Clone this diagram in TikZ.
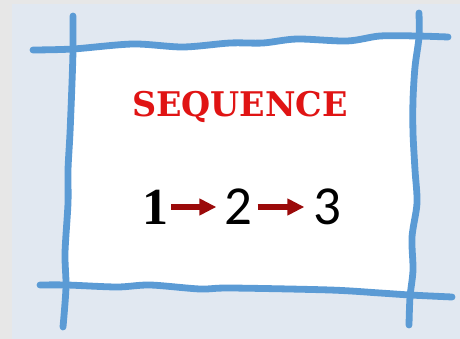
\documentclass[tikz,border=0pt]{standalone}
\usepackage{fontspec}
\usetikzlibrary{arrows.meta}
\setmainfont{DejaVu Serif}
\newfontfamily\onefont{Liberation Serif}
\newfontfamily\digfont{Carlito}
\definecolor{outergray}{HTML}{E7E7E7}
\definecolor{panelblue}{HTML}{E1E8F1}
\definecolor{framblue}{HTML}{5B9BD5}
\definecolor{seqred}{HTML}{E01414}
\definecolor{arrred}{HTML}{9B0A0A}
\tikzset{
  frameline/.style={draw=framblue, line width=6.8pt, line cap=round, line join=round},
  digit/.style={inner sep=0pt, anchor=base, text=black},
  seqarr/.style={draw=arrred, line width=5.5pt, -{Triangle[length=17pt,width=16pt]}},
}
\begin{document}
\begin{tikzpicture}[x=1pt,y=-1pt]
\useasboundingbox (0,0) rectangle (460,339);
\fill[outergray] (0,0) rectangle (460,339);
\fill[panelblue] (12,4) rectangle (460,339);
% white interior
\fill[white] plot[smooth] coordinates {(73,49) (133,44) (183,47) (230,43) (297,39) (347,41) (380,36) (419,36)}
  -- plot[smooth] coordinates {(419,36) (415,67) (413,100) (413,133) (415,170) (417,203) (412,237) (413,270) (410,295)}
  -- plot[smooth] coordinates {(410,295) (380,293) (330,290) (230,288) (200,289) (150,285) (117,287) (66,285)}
  -- plot[smooth] coordinates {(66,285) (65,253) (68,203) (68,170) (70,133) (72,83) (73,49)} -- cycle;
% frame lines
\draw[frameline] plot[smooth] coordinates {(33,50) (73,49) (133,44) (183,47) (230,43) (263,43) (297,39) (347,41) (380,36) (417,36) (448,37)};
\draw[frameline] plot[smooth] coordinates {(73,16) (73,50) (72,83) (70,133) (68,170) (68,203) (65,253) (66,287) (63,327)};
\draw[frameline] plot[smooth] coordinates {(419,13) (419,37) (415,67) (413,100) (413,133) (415,170) (417,203) (412,237) (413,270) (410,297) (409,325)};
\draw[frameline] plot[smooth] coordinates {(40,285) (67,285) (117,287) (150,285) (200,289) (230,288) (330,290) (380,293) (410,295) (452,297)};
% texts
\node[inner sep=0pt, text=seqred, anchor=base] (title) at (240,117) {\scalebox{1.16}[1.18]{\fontsize{28.8}{30}\selectfont\bfseries SEQUENCE}};
\node[digit, font=\onefont\bfseries\fontsize{52}{52}\selectfont] (n1) at (155,224) {1};
\node[digit, font=\digfont\fontsize{55}{55}\selectfont] (n2) at (238.5,224) {2};
\node[digit, font=\digfont\fontsize{55}{55}\selectfont] (n3) at (327.5,224) {3};
\draw[seqarr, shorten <=3pt, shorten >=8pt] (n1.east |- 0,207) -- (n2.west |- 0,207);
\draw[seqarr, shorten <=5pt, shorten >=9pt] (n2.east |- 0,207) -- (n3.west |- 0,207);
\end{tikzpicture}
\end{document}
